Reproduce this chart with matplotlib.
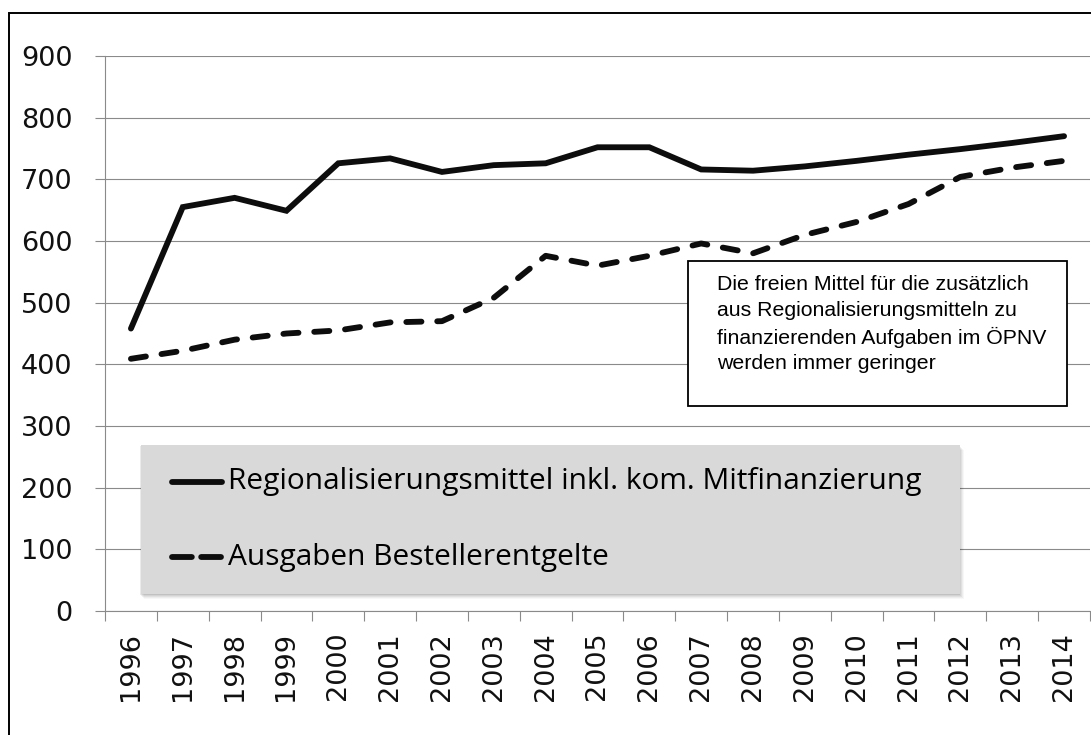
import matplotlib
matplotlib.use("Agg")
import matplotlib.pyplot as plt
from matplotlib.lines import Line2D
from matplotlib.patches import Rectangle
import numpy as np

years = ["1996", "1997", "1998", "1999", "2000", "2001", "2002", "2003", "2004", "2005",
         "2006", "2007", "2008", "2009", "2010", "2011", "2012", "2013", "2014"]
regionalisierungsmittel = [458, 655, 670, 649, 726, 734, 712, 723, 726, 752,
                           752, 716, 714, 721, 730, 740, 749, 759, 770]
bestellerentgelte = [409, 422, 440, 450, 455, 468, 470, 508, 576, 560,
                     576, 596, 580, 610, 631, 660, 704, 719, 730]
yticks = [0, 100, 200, 300, 400, 500, 600, 700, 800, 900]
legend_labels = ["Regionalisierungsmittel inkl. kom. Mitfinanzierung", "Ausgaben Bestellerentgelte"]
note = ("Die freien Mittel für die zusätzlich\naus Regionalisierungsmitteln zu\n"
        "finanzierenden Aufgaben im ÖPNV\nwerden immer geringer")

W, H = 1091, 735
fig = plt.figure(figsize=(W / 100, H / 100), dpi=100)
fx = lambda px: px / W
fy = lambda py: 1 - py / H

ax_l, ax_r, ax_t, ax_b = 105, 1090, 56, 611
ax = fig.add_axes([fx(ax_l), fy(ax_b), fx(ax_r - ax_l), (ax_b - ax_t) / H])

grid_c = "#8a8a8a"
line_c = "#0d0d0d"
n = len(years)
x = np.arange(n) + 0.5
ax.plot(x, regionalisierungsmittel, color=line_c, lw=4.2, solid_capstyle="round",
        solid_joinstyle="miter")
ax.plot(x, bestellerentgelte, color=line_c, lw=4.2, dashes=(2.6, 2.7),
        dash_capstyle="round")

ax.set_xlim(0, n)
ax.set_ylim(0, 900)
ax.set_yticks(yticks)
ax.set_yticklabels([str(v) for v in yticks])
ax.set_xticks(np.arange(n + 1))
ax.set_xticklabels([])
ax.set_xticks(x, minor=True)
ax.set_xticklabels(years, minor=True, rotation=90)
ax.tick_params(axis="x", which="major", length=7.5, width=0.8, color=grid_c, direction="out")
ax.tick_params(axis="x", which="minor", length=0, pad=15, labelsize=19.5)
ax.tick_params(axis="y", length=7.5, width=0.8, color=grid_c, pad=16, labelsize=19.5)
for lab in ax.get_xticklabels(minor=True) + ax.get_yticklabels():
    lab.set_fontfamily("DejaVu Sans")
    lab.set_color("#111111")
ax.grid(axis="y", color=grid_c, lw=0.8)
ax.set_axisbelow(True)
for s in ["top", "right"]:
    ax.spines[s].set_visible(False)
for s in ["left", "bottom"]:
    ax.spines[s].set_color(grid_c)
    ax.spines[s].set_linewidth(0.8)

# legend box with soft shadow
lb_l, lb_r, lb_t, lb_b = 141, 960, 445, 594
for i, a in enumerate([0.08, 0.06, 0.05, 0.04, 0.03]):
    off = 1 + i
    fig.patches.append(Rectangle((fx(lb_l + off - 2), fy(lb_b + off)), fx(lb_r - lb_l + 1), (lb_b - lb_t) / H,
                                 transform=fig.transFigure, facecolor="black", alpha=a,
                                 edgecolor="none", zorder=1))
fig.patches.append(Rectangle((fx(lb_l), fy(lb_b)), fx(lb_r - lb_l), (lb_b - lb_t) / H,
                             transform=fig.transFigure, facecolor="#d9d9d9",
                             edgecolor="none", zorder=2))
fig.lines.append(Line2D([fx(172), fx(222)], [fy(482), fy(482)], transform=fig.transFigure,
                        color=line_c, lw=4.2, solid_capstyle="round", zorder=3))
fig.lines.append(Line2D([fx(172), fx(221)], [fy(557), fy(557)], transform=fig.transFigure,
                        color=line_c, lw=4.2, dashes=(3.4, 1.6), dash_capstyle="round", zorder=3))
fig.text(fx(228), fy(482), legend_labels[0], fontsize=21.5, family="Open Sans", va="center",
         ha="left", color="black", zorder=4)
fig.text(fx(228), fy(557), legend_labels[1], fontsize=21.5, family="Open Sans", va="center",
         ha="left", color="black", zorder=4)

# annotation box
nb_l, nb_r, nb_t, nb_b = 688, 1067, 261, 406
fig.patches.append(Rectangle((fx(nb_l), fy(nb_b)), fx(nb_r - nb_l), (nb_b - nb_t) / H,
                             transform=fig.transFigure, facecolor="white",
                             edgecolor="black", lw=1.3, zorder=5))
fig.text(fx(717), fy(275.5), note, fontsize=15.3, family="Liberation Sans", va="top",
         ha="left", linespacing=1.41, color="black", zorder=6)

# outer border
fig.patches.append(Rectangle((fx(9), fy(800)), fx(1200), (800 - 13) / H,
                             transform=fig.transFigure, facecolor="none",
                             edgecolor="black", lw=1.4, zorder=10, clip_on=False))

fig.savefig("out.png", dpi=100, facecolor="white")
